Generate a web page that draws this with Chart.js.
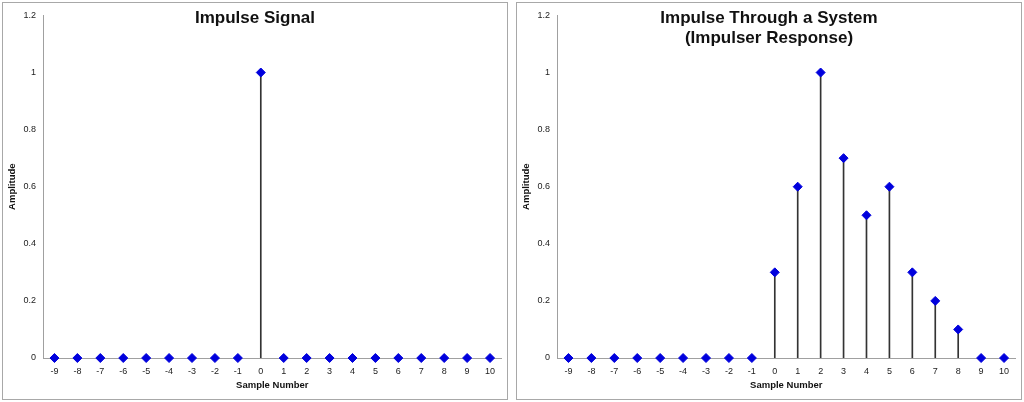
<!DOCTYPE html>
<html>
<head>
<meta charset="utf-8">
<script src="https://cdn.jsdelivr.net/npm/chart.js@4"></script>
<style>
  body { margin: 0; background: #fff; width: 1024px; height: 402px; position: relative; overflow: hidden; }
  .box { position: absolute; top: 2px; width: 504px; height: 396px; border: 1px solid #a8a8a8; }
  #boxLeft { left: 2px; }
  #boxRight { left: 516px; }
  canvas { display: block; }
</style>
</head>
<body>
<div class="box" id="boxLeft"><canvas id="impulseChart" width="504" height="396"></canvas></div>
<div class="box" id="boxRight"><canvas id="responseChart" width="504" height="396"></canvas></div>
<script>
const samples = ['-9','-8','-7','-6','-5','-4','-3','-2','-1','0','1','2','3','4','5','6','7','8','9','10'];
const impulse = [0,0,0,0,0,0,0,0,0,1,0,0,0,0,0,0,0,0,0,0];
const response = [0,0,0,0,0,0,0,0,0,0.3,0.6,1,0.7,0.5,0.6,0.3,0.2,0.1,0,0];
const yTicks = [0,0.2,0.4,0.6,0.8,1,1.2];

const font = 'Arial, "Liberation Sans", sans-serif';

// title drawn by hand so it does not push the plot area down
const titleLines = {
  id: 'titleLines',
  afterDraw(chart, args, opts) {
    const ctx = chart.ctx;
    ctx.save();
    ctx.font = 'bold 17px ' + font;
    ctx.fillStyle = '#111';
    ctx.textAlign = 'center';
    ctx.textBaseline = 'middle';
    opts.lines.forEach((t, i) => ctx.fillText(t, chart.width / 2, 15 + i * 20));
    ctx.restore();
  }
};

function stemChart(id, values, lines) {
  return new Chart(document.getElementById(id), {
    type: 'bar',
    data: {
      labels: samples,
      datasets: [{
        type: 'line',
        data: values,
        showLine: false,
        clip: false,
        pointStyle: 'rectRot',
        pointRadius: 4.5,
        pointHoverRadius: 4.5,
        pointBackgroundColor: '#0000dd',
        pointBorderColor: '#0000dd',
        pointBorderWidth: 1,
        order: 0
      }, {
        data: values,
        backgroundColor: '#333',
        barThickness: 1,
        order: 1
      }]
    },
    options: {
      responsive: false,
      animation: false,
      layout: { padding: { top: 11, right: 5, left: 0, bottom: 0 } },
      plugins: {
        legend: { display: false },
        tooltip: { enabled: false },
        titleLines: { lines: lines }
      },
      scales: {
        x: {
          offset: true,
          grid: { display: false, drawTicks: false },
          border: { display: true, color: '#a0a0a0', width: 1 },
          ticks: { color: '#222', font: { family: font, size: 9 }, padding: 8, maxRotation: 0, autoSkip: false },
          title: { display: true, text: 'Sample Number', color: '#111', font: { family: font, size: 9.5, weight: 'bold' }, padding: { top: 0, bottom: 8 } },
          afterFit(s) { s.height = 41; }
        },
        y: {
          min: 0,
          max: 1.2,
          grid: { display: false, drawTicks: false },
          border: { display: true, color: '#a0a0a0', width: 1 },
          afterBuildTicks(s) { s.ticks = yTicks.map(v => ({ value: v })); },
          ticks: {
            color: '#222',
            font: { family: font, size: 9 },
            padding: 7,
            callback: v => String(Number(v.toFixed(1)))
          },
          title: { display: true, text: 'Amplitude', color: '#111', font: { family: font, size: 9.5, weight: 'bold' }, padding: { top: 4, bottom: 0 } },
          afterFit(s) { s.width = 40; }
        }
      }
    },
    plugins: [titleLines]
  });
}

stemChart('impulseChart', impulse, ['Impulse Signal']);
stemChart('responseChart', response, ['Impulse Through a System', '(Impulser Response)']);
</script>
</body>
</html>
